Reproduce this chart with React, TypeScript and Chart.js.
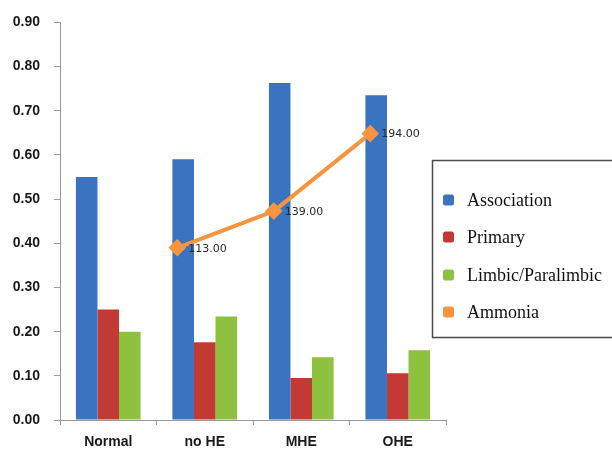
import React, { useEffect, useRef } from "react";
import { Chart, registerables } from "chart.js";

Chart.register(...registerables);

const categories = ["Normal", "no HE", "MHE", "OHE"];
const association = [0.55, 0.59, 0.763, 0.735];
const primary = [0.25, 0.176, 0.095, 0.106];
const limbic = [0.2, 0.234, 0.142, 0.158];
const ammonia: (number | null)[] = [null, 113, 139, 194];
const yTicks = [0, 0.1, 0.2, 0.3, 0.4, 0.5, 0.6, 0.7, 0.8, 0.9];

// the ammonia series sits on a secondary axis whose points are drawn left of the category centres
const LINE_SHIFT = -0.285;

const BLUE = "#3A73C0";
const RED = "#C33A35";
const GREEN = "#8DC13E";
const ORANGE = "#F7953F";

const labelPlugin = {
  id: "ammoniaLabels",
  afterDatasetsDraw(chart: any) {
    const ctx = chart.ctx;
    const meta = chart.getDatasetMeta(3);
    ctx.save();
    ctx.font = "11px 'DejaVu Sans'";
    ctx.fillStyle = "#2a2a2a";
    ctx.textAlign = "left";
    ctx.textBaseline = "middle";
    meta.data.forEach((pt: any, i: number) => {
      const v = ammonia[i];
      if (v == null) return;
      ctx.fillText(v.toFixed(2), pt.x + 11, pt.y + 1);
    });
    ctx.restore();
  },
};

const legendPlugin = {
  id: "boxLegend",
  afterDraw(chart: any) {
    const ctx = chart.ctx;
    ctx.save();
    ctx.strokeStyle = "#4a4a4a";
    ctx.lineWidth = 1.5;
    ctx.strokeRect(432.5, 160.5, 200, 177);
    const ys = [200, 237, 275, 312];
    ctx.font = "18px 'Liberation Serif'";
    ctx.textBaseline = "middle";
    ctx.textAlign = "left";
    chart.data.datasets.forEach((ds: any, i: number) => {
      const col = ds.legendColor;
      ctx.fillStyle = col;
      const x = 443, y = ys[i] - 5.5, s = 11, r = 2.5;
      ctx.beginPath();
      ctx.moveTo(x + r, y);
      ctx.lineTo(x + s - r, y);
      ctx.quadraticCurveTo(x + s, y, x + s, y + r);
      ctx.lineTo(x + s, y + s - r);
      ctx.quadraticCurveTo(x + s, y + s, x + s - r, y + s);
      ctx.lineTo(x + r, y + s);
      ctx.quadraticCurveTo(x, y + s, x, y + s - r);
      ctx.lineTo(x, y + r);
      ctx.quadraticCurveTo(x, y, x + r, y);
      ctx.fill();
      ctx.fillStyle = "#111111";
      ctx.fillText(ds.label, 467, ys[i] + 1);
    });
    ctx.restore();
  },
};

const barData = (vals: number[]) => vals.map((v, i) => ({ x: i, y: v }));

export default function App() {
  const ref = useRef<HTMLCanvasElement>(null);
  useEffect(() => {
    if (!ref.current) return;
    const barCommon = { categoryPercentage: 0.67, barPercentage: 1, order: 2 };
    const chart = new Chart(ref.current, {
      type: "bar",
      data: {
        datasets: [
          { label: "Association", data: barData(association), backgroundColor: BLUE, legendColor: BLUE, ...barCommon } as any,
          { label: "Primary", data: barData(primary), backgroundColor: RED, legendColor: RED, ...barCommon } as any,
          { label: "Limbic/Paralimbic", data: barData(limbic), backgroundColor: GREEN, legendColor: GREEN, ...barCommon } as any,
          {
            type: "line",
            label: "Ammonia",
            data: ammonia.map((v, i) => ({ x: i + LINE_SHIFT, y: v })),
            yAxisID: "y2",
            borderColor: ORANGE,
            backgroundColor: ORANGE,
            legendColor: ORANGE,
            borderWidth: 4,
            pointStyle: "rectRot",
            pointRadius: 6,
            pointBackgroundColor: ORANGE,
            pointBorderColor: ORANGE,
            spanGaps: false,
            order: 1,
          } as any,
        ],
      },
      options: {
        animation: false,
        responsive: false,
        maintainAspectRatio: false,
        layout: { padding: { top: 16, right: 166, left: 0, bottom: 0 } },
        plugins: { legend: { display: false }, tooltip: { enabled: false } },
        scales: {
          x: {
            type: "linear",
            offset: false,
            min: -0.5,
            max: categories.length - 0.5,
            afterBuildTicks(s: any) { s.ticks = categories.map((_, i) => ({ value: i })); },
            grid: { display: true, drawOnChartArea: false, offset: true, color: "#999999", tickLength: 5 },
            border: { display: true, color: "#999999", width: 1 },
            ticks: {
              color: "#1a1a1a",
              font: { family: "'Liberation Sans'", size: 14, weight: "bold" },
              padding: 9,
              maxRotation: 0,
              autoSkip: false,
              callback: (_v: any, i: number) => categories[i],
            },
            afterFit(s: any) { s.height = 30; },
          },
          y: {
            min: 0,
            max: 0.9,
            afterBuildTicks(s: any) { s.ticks = yTicks.map((v) => ({ value: v })); },
            grid: { display: true, drawOnChartArea: false, color: "#999999", tickLength: 6 },
            border: { display: true, color: "#999999", width: 1 },
            ticks: {
              color: "#1a1a1a",
              font: { family: "'Liberation Sans'", size: 14, weight: "bold" },
              padding: 14,
              callback: (v: any) => Number(v).toFixed(2),
            },
            afterFit(s: any) { s.width = 60; },
          },
          y2: {
            type: "linear",
            display: false,
            min: -9.2,
            max: 272.9,
          },
        },
      } as any,
      plugins: [labelPlugin, legendPlugin],
    });
    return () => chart.destroy();
  }, []);
  return (
    <div style={{ position: "absolute", left: 0, top: 0, width: 612, height: 450, background: "#fff" }}>
      <canvas ref={ref} width={612} height={450} style={{ width: 612, height: 450, display: "block" }} />
    </div>
  );
}
